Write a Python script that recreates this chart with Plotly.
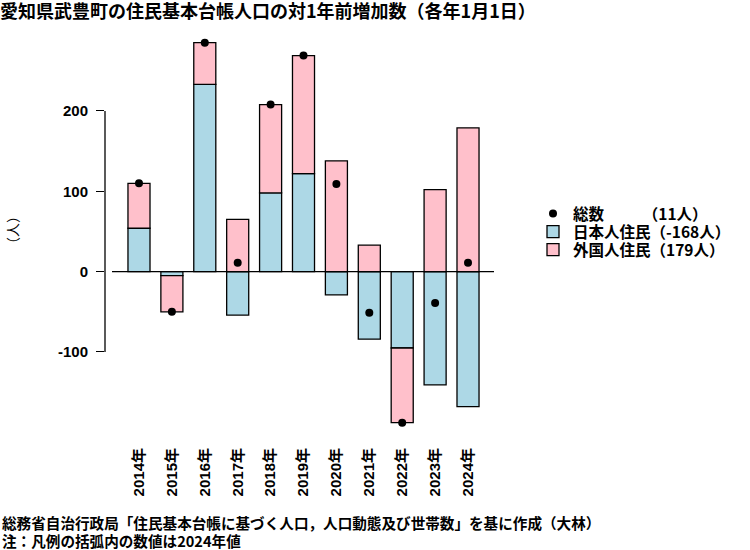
import plotly.graph_objects as go

years = ["2014年", "2015年", "2016年", "2017年", "2018年", "2019年",
         "2020年", "2021年", "2022年", "2023年", "2024年"]
japanese = [54, -5, 233, -54, 98, 122, -29, -84, -95, -141, -168]
foreign = [56, -45, 52, 65, 110, 147, 138, 33, -93, 102, 179]
total = [j + f for j, f in zip(japanese, foreign)]
yticks = [-100, 0, 100, 200]

xs = list(range(len(years)))
FONT = "Liberation Sans, Noto Sans CJK JP, sans-serif"
CJK = "Noto Sans CJK JP, sans-serif"

ML, MR, MT, MB = 105, 256, 30, 120
PW, PH = 750 - ML - MR, 550 - MT - MB


def px(xp):
    return (xp - ML) / PW


def py(yp):
    return (550 - MB - yp) / PH


fig = go.Figure()
fig.add_trace(go.Bar(x=xs, y=japanese, name="日本人住民（-168人）", width=0.67,
                     marker=dict(color="lightblue", line=dict(color="black", width=1.3)),
                     legend="legend2"))
fig.add_trace(go.Bar(x=xs, y=foreign, name="外国人住民（179人）", width=0.67,
                     marker=dict(color="pink", line=dict(color="black", width=1.3)),
                     legend="legend3"))
fig.add_trace(go.Scatter(x=xs, y=total, mode="markers", name="総数　　　（11人）",
                         marker=dict(color="black", size=8, symbol="circle"),
                         legend="legend"))

xmin, xmax = -1.033, 10.79
fig.add_shape(type="line", xref="x", yref="y", x0=-0.82, x1=xmax, y0=0, y1=0,
              line=dict(color="black", width=1.3))
fig.add_shape(type="line", xref="paper", yref="y", x0=0, x1=0, y0=-100, y1=200,
              line=dict(color="black", width=1.3))


def leg(ypix):
    return dict(xref="container", yref="container", x=533 / 750, y=1 - ypix / 550,
                xanchor="left", yanchor="middle",
                font=dict(family=CJK, size=15.5, weight="bold"),
                itemwidth=30, bgcolor="rgba(0,0,0,0)", borderwidth=0)


fig.update_layout(
    width=750, height=550,
    margin=dict(l=ML, r=MR, t=MT, b=MB),
    paper_bgcolor="white", plot_bgcolor="white",
    barmode="relative",
    font=dict(family=FONT, color="black"),
    title=dict(text="愛知県武豊町の住民基本台帳人口の対1年前増加数（各年1月1日）",
               x=0.0, xref="container", xanchor="left",
               y=0.99, yref="container", yanchor="top",
               font=dict(family=CJK, size=18, weight="bold")),
    xaxis=dict(range=[xmin, xmax], tickvals=xs, ticktext=years, tickangle=-90,
               showgrid=False, zeroline=False, showline=False, ticks="",
               ticklabelstandoff=14,
               tickfont=dict(family=FONT, size=15, weight="bold")),
    yaxis=dict(range=[-197.1, 300.8], tickvals=yticks, ticktext=[str(v) for v in yticks],
               showgrid=False, zeroline=False, showline=False,
               ticks="outside", ticklen=8, tickwidth=1.3, tickcolor="black",
               ticklabelstandoff=5,
               tickfont=dict(family=FONT, size=15, weight="bold")),
    legend=leg(214),
    legend2=leg(232),
    legend3=leg(250),
    showlegend=True,
)

fig.add_annotation(text="（人）", xref="paper", yref="paper", x=px(12), y=py(230),
                   xanchor="center", yanchor="middle", showarrow=False, textangle=-90,
                   font=dict(family=CJK, size=14))
fig.add_annotation(text="総務省自治行政局「住民基本台帳に基づく人口，人口動態及び世帯数」を基に作成（大林）",
                   xref="paper", yref="paper", x=px(0), y=py(522),
                   xanchor="left", yanchor="middle", showarrow=False,
                   font=dict(family=CJK, size=14.6, weight="bold"))
fig.add_annotation(text="注：凡例の括弧内の数値は2024年値",
                   xref="paper", yref="paper", x=px(0), y=py(540),
                   xanchor="left", yanchor="middle", showarrow=False,
                   font=dict(family=CJK, size=14.6, weight="bold"))

fig.write_html("out.html", config={"displayModeBar": False},
               post_script="document.body.style.margin='0';")
